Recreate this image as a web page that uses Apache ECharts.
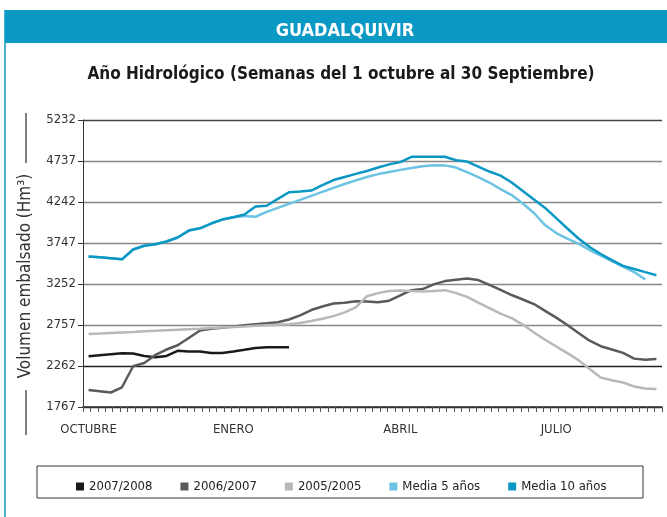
<!DOCTYPE html>
<html lang="es">
<head>
    <meta charset="UTF-8">
    <title>Guadalquivir - Volumen embalsado</title>
    <script src="https://cdn.jsdelivr.net/npm/echarts/dist/echarts.min.js"></script>
    <style>
        html, body { margin: 0; padding: 0; background: #ffffff; }
        #main { width: 667px; height: 517px; }
    </style>
</head>
<body>
    <div id="main"></div>
    <script>
        // Semanas del año hidrológico (52), con las etiquetas de mes donde caen
        var weeks = [];
        for (var w = 0; w < 52; w++) weeks.push('');
        weeks[0] = 'OCTUBRE';
        weeks[13] = 'ENERO';
        weeks[28] = 'ABRIL';
        weeks[42] = 'JULIO';

        var yTicks = [1767, 2262, 2757, 3252, 3747, 4242, 4737, 5232];

        var s2007 = [2380, 2392, 2404, 2415, 2413, 2383, 2367, 2383, 2445, 2437,
                     2436, 2419, 2419, 2437, 2457, 2479, 2488, 2488, 2488];

        var s2006 = [1972, 1958, 1942, 2005, 2259, 2298, 2395, 2461, 2512, 2600,
                     2690, 2712, 2725, 2739, 2754, 2766, 2778, 2791, 2823, 2874,
                     2938, 2981, 3016, 3025, 3044, 3040, 3032, 3051, 3116, 3178,
                     3191, 3248, 3287, 3304, 3319, 3300, 3241, 3182, 3119, 3065,
                     3010, 2928, 2846, 2757, 2660, 2567, 2501, 2461, 2421, 2351,
                     2337, 2346];

        var s2005 = [2648, 2654, 2661, 2667, 2673, 2681, 2687, 2694, 2700, 2707,
                     2713, 2721, 2727, 2734, 2740, 2747, 2753, 2759, 2766, 2782,
                     2805, 2832, 2864, 2910, 2970, 3104, 3142, 3167, 3174, 3167,
                     3160, 3167, 3178, 3142, 3096, 3028, 2961, 2894, 2839, 2762,
                     2667, 2579, 2498, 2418, 2333, 2226, 2122, 2090, 2063, 2014,
                     1990, 1984];

        var media5 = [3584, 3574, 3562, 3550, 3668, 3714, 3731, 3765, 3813, 3897,
                      3924, 3982, 4030, 4058, 4072, 4064, 4123, 4171, 4220, 4268,
                      4316, 4364, 4413, 4459, 4503, 4543, 4579, 4603, 4630, 4652,
                      4673, 4686, 4684, 4658, 4603, 4543, 4477, 4398, 4326, 4223,
                      4109, 3964, 3867, 3801, 3740, 3662, 3596, 3529, 3463, 3396,
                      3306];

        var media10 = [3584, 3574, 3562, 3550, 3668, 3714, 3731, 3765, 3813, 3897,
                       3924, 3982, 4030, 4058, 4090, 4187, 4197, 4280, 4360, 4368,
                       4380, 4447, 4507, 4543, 4582, 4616, 4658, 4696, 4724, 4788,
                       4788, 4788, 4788, 4746, 4730, 4670, 4610, 4561, 4477, 4374,
                       4272, 4171, 4048, 3922, 3801, 3698, 3614, 3541, 3471, 3433,
                       3395, 3358];

        var names = ['2007/2008', '2006/2007', '2005/2005', 'Media 5 años', 'Media 10 años'];
        var colors = ['#1a1a1a', '#5a5a5a', '#b8b8b8', '#6cc3e3', '#0b97c4'];

        // marcas finas del eje x (solo decorativas)
        var tickSlots = [];
        for (var t = 0; t < 78; t++) tickSlots.push('');

        var font = '"DejaVu Sans Condensed", "Liberation Sans", sans-serif';

        var chart = echarts.init(document.getElementById('main'));

        function line(name, data, color) {
            return {
                name: name,
                type: 'line',
                data: data,
                symbol: 'none',
                smooth: false,
                lineStyle: { color: color, width: 2.5 },
                itemStyle: { color: color }
            };
        }

        var option = {
            animation: false,
            textStyle: { fontFamily: font },
            graphic: [
                { type: 'rect', z: -1, shape: { x: 5, y: 10, width: 662, height: 33 }, style: { fill: '#0a99c5' } },
                { type: 'line', shape: { x1: 5, y1: 10, x2: 5, y2: 517 }, style: { stroke: '#0a99c5', lineWidth: 1.5 } },
                { type: 'line', shape: { x1: 26, y1: 113, x2: 26, y2: 163 }, style: { stroke: '#555', lineWidth: 1.5 } },
                { type: 'line', shape: { x1: 26, y1: 390, x2: 26, y2: 435 }, style: { stroke: '#555', lineWidth: 1.5 } },
                {
                    type: 'text', x: 26, y: 276, rotation: Math.PI / 2,
                    style: {
                        text: 'Volumen embalsado (Hm³)', fill: '#333', font: '17px ' + font,
                        align: 'center', verticalAlign: 'middle'
                    }
                },
                { type: 'rect', shape: { x: 37, y: 466, width: 606, height: 32 }, style: { fill: 'none', stroke: '#333', lineWidth: 1 } }
            ],
            title: [
                {
                    text: 'GUADALQUIVIR',
                    left: 340, top: 17, textAlign: 'center',
                    textStyle: { color: '#ffffff', fontSize: 18, fontWeight: 'bold', fontFamily: font }
                },
                {
                    text: 'Año Hidrológico (Semanas del 1 octubre al 30 Septiembre)',
                    left: 336, top: 61, textAlign: 'center',
                    textStyle: { color: '#1a1a1a', fontSize: 17, fontWeight: 'bold', fontFamily: font }
                }
            ],
            legend: {
                data: names,
                left: 71,
                top: 475,
                icon: 'rect',
                itemWidth: 8,
                itemHeight: 8,
                itemGap: 28,
                textStyle: { fontSize: 13, color: '#222', fontFamily: font }
            },
            grid: { left: 83, right: 5, top: 120, bottom: 110 },
            xAxis: [
                {
                    type: 'category',
                    data: weeks,
                    boundaryGap: true,
                    axisLine: { lineStyle: { color: '#333', width: 1.5 } },
                    axisTick: { show: false },
                    axisLabel: { interval: 0, margin: 16, fontSize: 13, color: '#333' }
                },
                {
                    type: 'category',
                    data: tickSlots,
                    position: 'bottom',
                    boundaryGap: true,
                    axisLine: { show: false },
                    axisTick: { show: true, interval: 0, length: 5, lineStyle: { color: '#555' } },
                    axisLabel: { show: false }
                }
            ],
            yAxis: {
                type: 'value',
                min: yTicks[0],
                max: yTicks[yTicks.length - 1],
                interval: yTicks[1] - yTicks[0],
                axisLine: { show: true, lineStyle: { color: '#333', width: 1 } },
                axisTick: { show: true, length: 5, lineStyle: { color: '#333' } },
                axisLabel: {
                    margin: 7, fontSize: 13, color: '#333',
                    formatter: function (v) { return String(v); }
                },
                splitLine: {
                    show: true,
                    lineStyle: {
                        color: ['#333', '#222', '#888', '#888', '#888', '#888', '#888', '#444'],
                        width: 1.3
                    }
                }
            },
            series: [
                line(names[0], s2007, colors[0]),
                line(names[1], s2006, colors[1]),
                line(names[2], s2005, colors[2]),
                line(names[3], media5, colors[3]),
                line(names[4], media10, colors[4])
            ]
        };

        chart.setOption(option);
    </script>
</body>
</html>
